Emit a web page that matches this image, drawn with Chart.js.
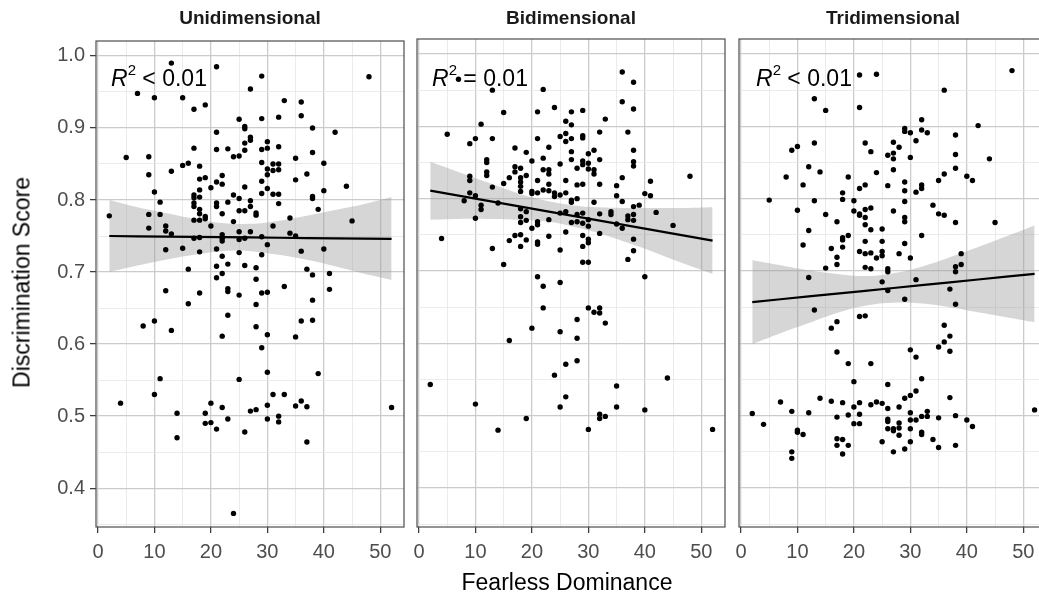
<!DOCTYPE html>
<html>
<head>
<meta charset="utf-8">
<script src="https://cdn.jsdelivr.net/npm/chart.js@4.4.0/dist/chart.umd.min.js"></script>
<style>
  html, body { margin: 0; padding: 0; background: #fff; }
  #wrap { position: relative; width: 1039px; height: 600px; overflow: hidden;
          font-family: "Liberation Sans", Arial, Helvetica, sans-serif; }
  canvas { position: absolute; }
  .strip { position: absolute; top: 7px; width: 308px; text-align: center;
           font-weight: bold; font-size: 19px; color: #1a1a1a; }
  .r2 { position: absolute; top: 65px; font-size: 23px; color: #000; line-height: 26px; white-space: nowrap; }
  .r2 sup { font-size: 15px; position: relative; top: -2px; vertical-align: super; line-height: 0; }
  #ytitle { position: absolute; left: -128px; top: 269px; width: 300px; text-align: center;
            font-size: 23px; color: #000; transform: rotate(-90deg); }
  #xtitle { position: absolute; left: 417px; top: 569px; width: 300px; text-align: center;
            font-size: 23px; color: #000; }
</style>
</head>
<body>
<div id="wrap">
  <canvas id="c1" width="416" height="543" style="left:0px;top:24px"></canvas>
  <canvas id="c2" width="332" height="543" style="left:405px;top:24px"></canvas>
  <canvas id="c3" width="332" height="543" style="left:727px;top:24px"></canvas>

  <div class="strip" style="left:96px">Unidimensional</div>
  <div class="strip" style="left:417px">Bidimensional</div>
  <div class="strip" style="left:739px">Tridimensional</div>

  <div class="r2" style="left:111px"><i>R</i><sup>2</sup> &lt; 0.01</div>
  <div class="r2" style="left:432px"><i>R</i><sup>2</sup> = 0.01</div>
  <div class="r2" style="left:756px"><i>R</i><sup>2</sup> &lt; 0.01</div>

  <div id="ytitle">Discrimination Score</div>
  <div id="xtitle">Fearless Dominance</div>
</div>

<script>
// ── Axis ticks ────────────────────────────────────────────────────────────
const X_TICKS = [0, 5, 10, 15, 20, 25, 30, 35, 40, 45, 50];
const Y_TICKS = [0.35, 0.4, 0.45, 0.5, 0.55, 0.6, 0.65, 0.7, 0.75, 0.8, 0.85, 0.9, 0.95, 1.0];
const X_MIN = -0.35, X_MAX = 54.2;
const Y_MIN = 0.3461, Y_MAX = 1.0207;

// ── Unidimensional ────────────────────────────────────────────────────────
const uniX = [13,21,29,48,27,7,10,15,33,36,19,17,36,32,29,25,26,26,38,42,21,27,27,26,30,32,17,21,23,26,
  29,30,38,24,25,5,9,35,29,31,32,40,16,15,18,30,31,32,13,37,9,22,19,18,30,35,21,22,29,20,
  26,44,18,30,40,10,29,31,32,17,17,24,18,38,38,25,27,23,11,17,17,21,21,32,27,26,25,18,39,18,
  22,28,28,2,9,11,19,19,34,17,18,45,24,9,12,12,20,31,13,27,25,22,34,35,17,18,22,22,25,26,
  29,30,12,15,18,21,25,36,40,22,29,21,23,26,28,16,37,
  38,41,21,22,28,12,18,23,23,25,29,30,33,41,16,28,38,23,8,10,13,22,28,30,35,36,38,29,30,39,
  11,25,10,31,33,4,20,22,35,36,37,52,30,27,28,14,19,32,23,30,32,19,20,21,26,14,37,24];
const uniY = [.990,.985,.972,.971,.954,.948,.942,.942,.938,.936,.932,.926,.917,.915,.913,.912,.902,.899,.900,.894,
  .894,.887,.883,.879,.881,.874,.872,.870,.871,.869,.870,.872,.866,.860,.861,.859,.860,.858,.852,.850,
  .850,.851,.851,.848,.847,.843,.841,.842,.840,.836,.835,.834,.831,.829,.835,.828,.825,.822,.826,.817,
  .818,.819,.814,.816,.813,.811,.809,.808,.808,.807,.803,.807,.804,.805,.802,.802,.799,.797,.797,.796,
  .791,.796,.791,.795,.791,.785,.785,.787,.787,.781,.781,.782,.779,.778,.780,.780,.777,.774,.775,.772,
  .772,.771,.770,.761,.764,.757,.764,.764,.753,.756,.756,.752,.754,.750,.747,.748,.747,.743,.745,.747,
  .749,.738,.731,.733,.728,.732,.727,.729,.732,.722,.724,.708,.711,.709,.706,.704,.704,
  .696,.698,.692,.698,.690,.674,.671,.677,.673,.668,.671,.672,.680,.676,.656,.655,.661,.640,.625,.632,
  .619,.611,.624,.613,.610,.632,.633,.595,.561,.559,.552,.551,.530,.530,.530,.518,.518,.512,.514,.521,
  .513,.512,.515,.507,.509,.504,.504,.500,.496,.496,.492,.490,.491,.482,.478,.470,.464,.365];

// ── Bidimensional ─────────────────────────────────────────────────────────
const biX = [36,38,22,13,7,36,38,15,21,24,27,29,33,26,27,11,5,10,9,13,21,25,26,26,27,29,29,32,37,17,
  19,23,27,30,31,38,12,12,20,22,25,27,29,29,30,32,38,38,12,12,17,18,19,22,23,23,28,30,31,31,
  36,9,9,16,17,18,18,21,26,23,28,29,32,35,41,48,13,15,18,18,20,20,21,22,23,24,24,25,26,9,
  10,8,11,11,14,27,27,28,31,35,36,40,41,38,39,10,18,18,19,25,26,28,29,32,34,34,37,38,42,19,
  18,21,21,23,27,28,29,30,30,37,38,20,26,32,35,36,45,4,16,17,18,19,18,21,21,23,29,30,30,38,
  13,25,29,38,37,15,29,30,21,22,25,40,22,30,31,32,32,28,33,20,25,28,16,28,26,24,44,2,35,26,
  10,25,35,40,32,32,33,19,14,30,52];
const biY = [.975,.961,.951,.950,.965,.934,.924,.919,.920,.926,.920,.922,.910,.907,.902,.903,.889,.883,.876,.883,
  .883,.886,.890,.879,.883,.887,.884,.892,.892,.870,.864,.871,.865,.862,.867,.867,.854,.850,.852,.856,
  .848,.854,.852,.847,.849,.854,.851,.845,.837,.832,.844,.842,.832,.840,.840,.834,.842,.841,.840,.834,
  .829,.831,.825,.829,.837,.829,.823,.825,.825,.820,.819,.820,.820,.818,.824,.831,.816,.821,.817,.810,
  .810,.807,.808,.812,.811,.808,.803,.805,.808,.808,.804,.797,.791,.785,.794,.798,.795,.800,.795,.804,
  .796,.807,.804,.789,.791,.773,.786,.775,.782,.780,.782,.778,.780,.779,.782,.778,.776,.778,.781,.770,
  .767,.768,.764,.771,.767,.768,.766,.771,.762,.771,.770,.759,.754,.752,.765,.759,.763,.745,.742,.749,
  .750,.743,.734,.740,.737,.748,.749,.744,.739,.744,.731,.729,.734,.728,.716,.709,.712,.712,.692,.679,
  .684,.692,.649,.649,.643,.649,.642,.633,.628,.621,.616,.607,.604,.576,.571,.556,.552,.543,.541,.526,
  .516,.512,.512,.508,.502,.496,.499,.496,.480,.481,.481];

// ── Tridimensional ────────────────────────────────────────────────────────
const triX = [21,24,48,36,13,15,21,32,42,29,29,30,32,33,31,38,9,10,13,22,23,27,28,26,27,27,30,38,44,12,
  14,8,27,24,19,36,38,40,41,11,21,22,26,29,29,31,32,32,35,18,5,13,18,20,29,10,15,20,21,21,
  22,23,22,27,29,29,34,35,36,38,45,17,22,23,25,12,19,18,18,32,11,16,18,22,25,29,21,22,23,24,
  25,25,28,30,17,17,15,22,23,26,38,39,39,
  12,26,38,25,31,26,37,29,38,13,21,22,17,16,36,37,36,35,37,30,31,17,19,23,20,32,26,31,30,29,
  37,7,14,16,18,21,20,23,24,25,26,28,2,4,9,12,17,19,21,30,32,33,33,35,38,52,26,26,28,28,
  27,27,26,30,30,31,28,32,32,20,21,10,10,11,40,41,17,17,18,19,18,9,9,25,27,29,30,34,35,38];
const triY = [.971,.972,.977,.950,.938,.922,.926,.909,.901,.897,.893,.891,.895,.891,.880,.888,.867,.872,.877,.877,
  .865,.878,.871,.860,.863,.855,.857,.861,.855,.844,.837,.830,.840,.836,.830,.834,.842,.831,.825,.819,
  .814,.819,.818,.823,.811,.809,.819,.814,.825,.808,.798,.797,.799,.797,.796,.784,.778,.783,.779,.777,
  .785,.787,.774,.783,.774,.768,.791,.779,.777,.767,.767,.768,.764,.757,.758,.756,.749,.746,.743,.749,
  .736,.731,.733,.741,.741,.738,.727,.724,.725,.718,.727,.721,.724,.718,.719,.709,.704,.705,.703,.703,
  .706,.709,.724,
  .691,.699,.699,.685,.688,.673,.675,.661,.654,.646,.637,.638,.630,.621,.625,.610,.602,.595,.589,.591,
  .581,.588,.572,.572,.547,.551,.543,.534,.528,.524,.525,.519,.524,.520,.518,.518,.512,.515,.519,.517,
  .510,.512,.503,.488,.506,.504,.498,.501,.502,.504,.499,.499,.506,.497,.500,.508,.495,.492,.490,.483,
  .482,.479,.482,.494,.482,.494,.473,.477,.474,.489,.489,.480,.477,.474,.494,.485,.468,.459,.467,.459,
  .447,.450,.441,.464,.450,.454,.464,.467,.456,.459];

// ── Linear fits with 95% bands ────────────────────────────────────────────
const FIT_X    = [2, 7, 12, 17, 22, 27, 32, 37, 42, 47, 52];
const uniFit   = [.750,.7496,.7492,.7488,.7484,.748,.7476,.7472,.7468,.7464,.746];
const uniUpper = [.800,.790,.782,.774,.768,.767,.771,.778,.786,.794,.804];
const uniLower = [.700,.709,.717,.724,.729,.729,.724,.717,.708,.698,.689];
const biFit    = [.811,.8041,.7972,.7903,.7834,.7765,.7696,.7627,.7558,.7489,.742];
const biUpper  = [.851,.837,.823,.809,.798,.791,.788,.787,.787,.787,.788];
const biLower  = [.771,.772,.772,.771,.769,.762,.752,.739,.725,.710,.696];
const triFit   = [.657,.6609,.6648,.6687,.6726,.6765,.6804,.6843,.6882,.6921,.696];
const triUpper = [.715,.708,.701,.696,.693,.697,.706,.719,.733,.748,.763];
const triLower = [.599,.614,.628,.642,.652,.656,.655,.650,.643,.636,.629];

// ── Shared styling ────────────────────────────────────────────────────────
const FONT = '"Liberation Sans", Arial, Helvetica, sans-serif';
const GRID_MAJOR = '#cbcbcb';
const GRID_MINOR = '#e6e6e6';
const near = (a, b) => Math.abs(a - b) < 1e-6;
const majorY = v => near(v * 10, Math.round(v * 10));
const majorX = v => near(v % 10, 0);

const panelBorder = {
    id: 'panelBorder',
    afterDraw(chart) {
        const { ctx, chartArea: a } = chart;
        ctx.save();
        ctx.strokeStyle = '#4d4d4d';
        ctx.lineWidth = 1.2;
        ctx.strokeRect(a.left, a.top, a.right - a.left, a.bottom - a.top);
        ctx.restore();
    }
};

const pts = (xs, ys) => xs.map((x, i) => ({ x, y: ys[i] }));

function makePanel(id, xs, ys, fit, upper, lower, first) {
    return new Chart(document.getElementById(id), {
        type: 'line',
        data: {
            datasets: [
                {   // observations
                    data: pts(xs, ys),
                    showLine: false,
                    pointRadius: 2.7,
                    pointBackgroundColor: '#000',
                    pointBorderWidth: 0,
                    order: 0
                },
                {   // fitted line
                    data: pts(FIT_X, fit),
                    borderColor: '#000',
                    borderWidth: 2.2,
                    pointRadius: 0,
                    fill: false,
                    order: 1
                },
                {   // band upper, filled to the lower edge
                    data: pts(FIT_X, upper),
                    borderWidth: 0,
                    borderColor: 'rgba(0,0,0,0)',
                    backgroundColor: 'rgba(153,153,153,0.4)',
                    pointRadius: 0,
                    tension: 0.4,
                    fill: '+1',
                    order: 2
                },
                {
                    data: pts(FIT_X, lower),
                    borderWidth: 0,
                    borderColor: 'rgba(0,0,0,0)',
                    pointRadius: 0,
                    tension: 0.4,
                    fill: false,
                    order: 3
                }
            ]
        },
        options: {
            responsive: false,
            animation: false,
            devicePixelRatio: 1,
            events: [],
            layout: { padding: { left: first ? 0 : 12, right: 12, top: 15, bottom: 0 } },
            plugins: { legend: { display: false }, tooltip: { enabled: false } },
            scales: {
                x: {
                    type: 'linear',
                    min: X_MIN,
                    max: X_MAX,
                    afterBuildTicks: s => { s.ticks = X_TICKS.map(v => ({ value: v })); },
                    afterFit: s => { s.height = 40; },
                    border: { display: false },
                    grid: {
                        color: c => majorX(c.tick.value) ? GRID_MAJOR : GRID_MINOR,
                        lineWidth: c => majorX(c.tick.value) ? 1.3 : 0.8,
                        tickColor: c => majorX(c.tick.value) ? '#333333' : 'rgba(0,0,0,0)',
                        tickWidth: 1.2,
                        tickLength: 6
                    },
                    ticks: {
                        autoSkip: false,
                        maxRotation: 0,
                        padding: 7,
                        color: '#4d4d4d',
                        font: { family: FONT, size: 20 },
                        callback: v => majorX(v) ? String(v) : ''
                    }
                },
                y: {
                    type: 'linear',
                    min: Y_MIN,
                    max: Y_MAX,
                    afterBuildTicks: s => { s.ticks = Y_TICKS.map(v => ({ value: v })); },
                    afterFit: s => { s.width = first ? 96 : 0; },
                    border: { display: false },
                    grid: {
                        color: c => majorY(c.tick.value) ? GRID_MAJOR : GRID_MINOR,
                        lineWidth: c => majorY(c.tick.value) ? 1.3 : 0.8,
                        tickColor: c => majorY(c.tick.value) ? '#333333' : 'rgba(0,0,0,0)',
                        tickWidth: 1.2,
                        tickLength: 6,
                        drawTicks: first
                    },
                    ticks: {
                        display: first,
                        padding: 5,
                        color: '#4d4d4d',
                        font: { family: FONT, size: 20 },
                        callback: v => majorY(v) ? v.toFixed(1) : ''
                    }
                }
            }
        },
        plugins: [panelBorder]
    });
}

makePanel('c1', uniX, uniY, uniFit, uniUpper, uniLower, true);
makePanel('c2', biX, biY, biFit, biUpper, biLower, false);
makePanel('c3', triX, triY, triFit, triUpper, triLower, false);
</script>
</body>
</html>
